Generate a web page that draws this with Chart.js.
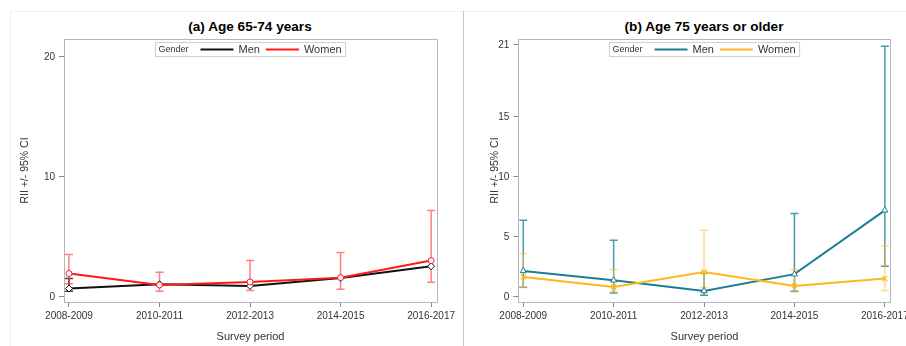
<!DOCTYPE html>
<html lang="en">
<head>
<meta charset="UTF-8">
<title>RII by survey period</title>
<script src="https://cdn.jsdelivr.net/npm/chart.js"></script>
<style>
  body { margin: 0; background: #fff; font-family: "Liberation Sans", Arial, sans-serif; }
  #wrap { position: relative; width: 906px; height: 346px; overflow: hidden; }
  #frameL { position: absolute; left: 10px; top: 11px; width: 453px; height: 340px; border-left: 1px solid #ececec; border-top: 1px solid #f2f2f2; }
  #frameR { position: absolute; left: 464px; top: 11px; width: 450px; height: 340px; border-top: 1px solid #f2f2f2; }
  #divider { position: absolute; left: 463px; top: 11px; width: 1px; height: 340px; background: #c6c6c6; }
  canvas { position: absolute; top: 0; }
  .ttl { position: absolute; top: 19px; width: 300px; font-weight: bold; font-size: 13.6px; line-height: 16px; color: #000; text-align: center; }
</style>
</head>
<body>
<div id="wrap">
  <div id="frameL"></div>
  <div id="frameR"></div>
  <div id="divider"></div>
  <div class="ttl" style="left:100px">(a) Age 65-74 years</div>
  <div class="ttl" style="left:554px">(b) Age 75 years or older</div>
  <canvas id="chartA" width="460" height="346" style="left:0"></canvas>
  <canvas id="chartB" width="446" height="346" style="left:460px"></canvas>
</div>
<script>
// survey periods on the x axis
const periods = ['2008-2009', '2010-2011', '2012-2013', '2014-2015', '2016-2017'];

// (a) age 65-74
const menA     = [0.70, 1.06, 0.92, 1.58, 2.56];
const menALo   = [0.47, null, null, null, null];
const menAHi   = [1.53, null, null, null, null];
const womenA   = [1.95, 1.00, 1.25, 1.61, 3.03];
const womenALo = [1.10, 0.47, 0.53, 0.64, 1.22];
const womenAHi = [3.53, 2.06, 3.03, 3.70, 7.20];
const yTicksA  = [0, 10, 20];

// (b) age 75+
const menB     = [2.17, 1.39, 0.50, 1.90, 7.22];
const menBLo   = [0.80, 0.33, 0.14, 0.47, 2.56];
const menBHi   = [6.40, 4.72, 2.00, 6.95, 20.9];
const womenB   = [1.67, 0.83, 2.08, 0.92, 1.53];
const womenBLo = [0.78, 0.42, 0.78, 0.42, 0.53];
const womenBHi = [3.60, 2.28, 5.56, 2.28, 4.25];
const yTicksB  = [0, 5, 10, 15, 21];

const legendTitle = 'Gender';
const FONT = '"Liberation Sans", Arial, sans-serif';

// draw the confidence interval whiskers under the lines
const errorBars = {
  id: 'errorBars',
  beforeDatasetsDraw(chart) {
    const {ctx, scales: {x, y}} = chart;
    const sets = chart.data.datasets.slice().sort((a, b) => b.order - a.order);
    sets.forEach(ds => {
      if (!ds.errLo) return;
      ctx.save();
      ctx.strokeStyle = ds.errColor;
      ctx.lineWidth = 1.5;
      ds.errLo.forEach((lo, i) => {
        const hi = ds.errHi[i];
        if (lo == null || hi == null) return;
        const px = x.getPixelForValue(i);
        const y1 = y.getPixelForValue(lo), y2 = y.getPixelForValue(hi);
        ctx.beginPath();
        ctx.moveTo(px, y1); ctx.lineTo(px, y2);
        ctx.moveTo(px - 4, y1); ctx.lineTo(px + 4, y1);
        ctx.moveTo(px - 4, y2); ctx.lineTo(px + 4, y2);
        ctx.stroke();
      });
      ctx.restore();
    });
  }
};

// box round the plot area
const plotFrame = {
  id: 'plotFrame',
  beforeDatasetsDraw(chart) {
    const {ctx, chartArea: a} = chart;
    ctx.save();
    ctx.strokeStyle = '#b3b7bb';
    ctx.lineWidth = 1;
    ctx.strokeRect(Math.round(a.left) + 0.5, Math.round(a.top) + 0.5, Math.round(a.right - a.left), Math.round(a.bottom - a.top));
    ctx.restore();
  }
};

// SAS style legend inside the top of the plot
const boxLegend = {
  id: 'boxLegend',
  afterDraw(chart) {
    const {ctx, chartArea: a} = chart;
    ctx.save();
    ctx.font = '9px ' + FONT;
    const wTitle = ctx.measureText(legendTitle).width;
    ctx.font = '11px ' + FONT;
    const items = chart.data.datasets.map(d => ({label: d.label, color: d.borderColor, w: ctx.measureText(d.label).width}));
    const lineLen = 33;
    let total = 3 + wTitle + 12;
    items.forEach((it, i) => { total += lineLen + 5 + it.w + (i < items.length - 1 ? 6 : 4); });
    const x0 = Math.round((a.left + a.right) / 2 - total / 2) + 0.5;
    const y0 = Math.round(a.top) + 3.5;
    const h = 14, cy = y0 + h / 2;
    ctx.fillStyle = '#fff';
    ctx.fillRect(x0, y0, total, h);
    ctx.strokeStyle = '#d0d0d0';
    ctx.lineWidth = 1;
    ctx.strokeRect(x0, y0, total, h);
    ctx.fillStyle = '#333';
    ctx.textBaseline = 'middle';
    ctx.font = '9px ' + FONT;
    let cx = x0 + 3;
    ctx.fillText(legendTitle, cx, cy);
    cx += wTitle + 12;
    ctx.font = '11px ' + FONT;
    items.forEach(it => {
      ctx.strokeStyle = it.color;
      ctx.lineWidth = 2;
      ctx.beginPath();
      ctx.moveTo(cx, cy); ctx.lineTo(cx + lineLen, cy);
      ctx.stroke();
      cx += lineLen + 5;
      ctx.fillStyle = '#333';
      ctx.fillText(it.label, cx, cy + 0.5);
      cx += it.w + 6;
    });
    ctx.restore();
  }
};

function pts(arr) {
  return arr.map((v, i) => ({x: i, y: v}));
}

function makeChart(id, sets, yTicks, pad, yWidth) {
  return new Chart(document.getElementById(id), {
    type: 'line',
    data: {datasets: sets},
    options: {
      responsive: false,
      animation: false,
      devicePixelRatio: 1,
      layout: {padding: pad},
      plugins: {legend: {display: false}, tooltip: {enabled: false}},
      scales: {
        x: {
          type: 'linear',
          min: -0.055,
          max: 4.065,
          afterBuildTicks: s => { s.ticks = periods.map((p, i) => ({value: i})); },
          afterFit: s => { s.height = 44; s.paddingLeft = 0; s.paddingRight = 0; },
          ticks: {
            autoSkip: false, maxRotation: 0, padding: 3,
            color: '#333', font: {family: FONT, size: 10},
            callback: v => periods[v]
          },
          grid: {drawOnChartArea: false, drawTicks: true, tickLength: 5, color: '#888'},
          border: {display: false},
          title: {display: true, text: 'Survey period', color: '#333', font: {family: FONT, size: 11}, padding: {top: 0, bottom: 2}}
        },
        y: {
          type: 'linear',
          min: -0.42,
          max: 21.5,
          afterBuildTicks: s => { s.ticks = yTicks.map(v => ({value: v})); },
          afterFit: s => { s.width = yWidth; s.paddingTop = 0; s.paddingBottom = 0; },
          ticks: {padding: 4, color: '#333', font: {family: FONT, size: 10}},
          grid: {drawOnChartArea: false, drawTicks: true, tickLength: 5, color: '#888'},
          border: {display: false},
          title: {display: true, text: 'RII +/- 95% CI', color: '#333', font: {family: FONT, size: 10.5}, padding: {top: 8.7, bottom: 0}}
        }
      }
    },
    plugins: [plotFrame, errorBars, boxLegend]
  });
}

makeChart('chartA', [
  {label: 'Men', data: pts(menA), borderColor: '#111', borderWidth: 2, order: 2,
   pointStyle: 'rectRot', pointRadius: 3.5, pointBorderWidth: 1, pointBackgroundColor: '#fff', pointBorderColor: '#111',
   errLo: menALo, errHi: menAHi, errColor: 'rgba(20,20,20,0.8)'},
  {label: 'Women', data: pts(womenA), borderColor: '#ff1a1a', borderWidth: 2, order: 1,
   pointStyle: 'circle', pointRadius: 3, pointBorderWidth: 1, pointBackgroundColor: '#fff', pointBorderColor: '#ff1a1a',
   errLo: womenALo, errHi: womenAHi, errColor: 'rgba(255,40,40,0.6)'}
], yTicksA, {left: 10, right: 23, top: 39, bottom: 0}, 54);

makeChart('chartB', [
  {label: 'Men', data: pts(menB), borderColor: '#1b7f93', borderWidth: 2, order: 2,
   pointStyle: 'triangle', pointRadius: 3.5, pointBorderWidth: 1, pointBackgroundColor: '#fff', pointBorderColor: '#1b7f93',
   errLo: menBLo, errHi: menBHi, errColor: 'rgba(27,127,147,0.8)'},
  {label: 'Women', data: pts(womenB), borderColor: '#ffb81c', borderWidth: 2, order: 1,
   pointStyle: 'crossRot', pointRadius: 3.5, pointBorderWidth: 1.2, pointBackgroundColor: '#fff', pointBorderColor: '#ffb81c',
   errLo: womenBLo, errHi: womenBHi, errColor: 'rgba(255,190,50,0.55)'}
], yTicksB, {left: 20, right: 15.3, top: 39, bottom: 0}, 38.3);
</script>
</body>
</html>
